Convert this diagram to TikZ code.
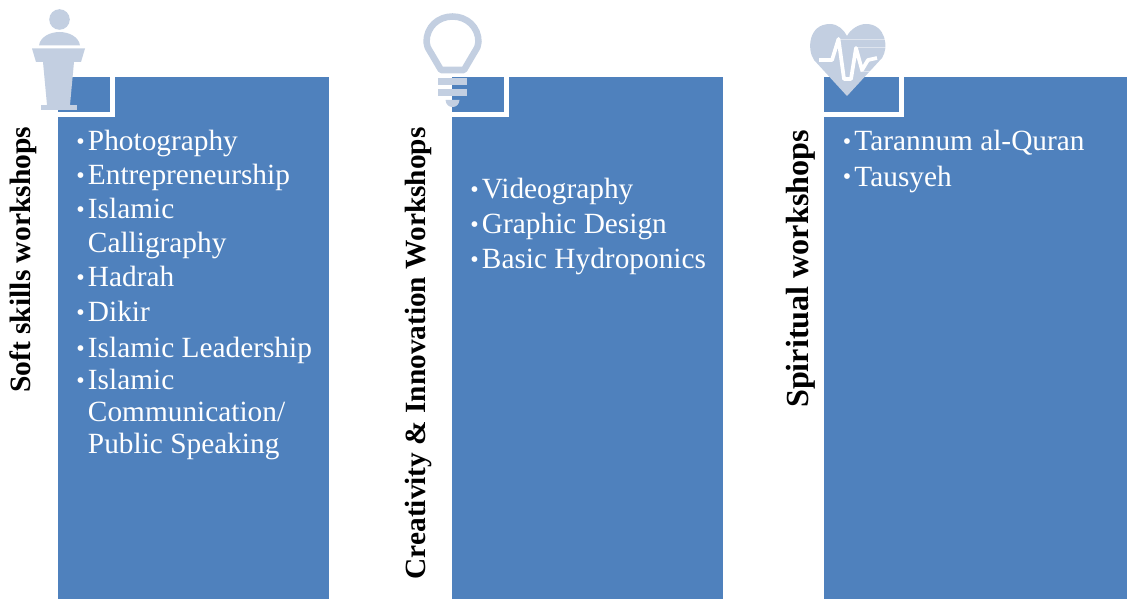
\documentclass[tikz,border=0pt]{standalone}
\usepackage{fontspec}
\setmainfont{Liberation Serif}
\definecolor{panel}{HTML}{4F81BD}
\definecolor{icon}{HTML}{C3CFE1}
\tikzset{
  x=0.75pt,y=-0.75pt,
  panelbox/.style={fill=panel,draw=none},
  gap/.style={draw=white,line width=3.75pt,line cap=butt},
  item/.style={text=white,anchor=base west,inner sep=0pt,font=\fontsize{22pt}{24pt}\selectfont},
  dot/.style={text=white,anchor=base west,inner sep=0pt,font=\fontsize{18pt}{20pt}\selectfont},
  vlabel/.style={rotate=90,anchor=base west,inner sep=0pt,font=\fontsize{22.15pt}{24pt}\selectfont\bfseries,text=black},
  iconfill/.style={fill=icon,draw=none},
  iconline/.style={draw=icon,line width=4.9pt,fill=none},
}
\newcommand{\itm}[4]{\node[dot] (#1d) at (#2-1,#3-1.5) {•}; \node[item] (#1) at (#2+10.7,#3) {#4};}
\begin{document}
\begin{tikzpicture}
\useasboundingbox (0,0) rectangle (1127,599);
% panels
\fill[panelbox] (58,77) rectangle (329,599);
\fill[panelbox] (452,77) rectangle (723,599);
\fill[panelbox] (824,77) rectangle (1127,599);
\draw[gap] (58,114.5) -- (115,114.5);
\draw[gap] (112.5,77) -- (112.5,117);
\draw[gap] (452,114.5) -- (509,114.5);
\draw[gap] (506.5,77) -- (506.5,117);
\draw[gap] (824,114.5) -- (904,114.5);
\draw[gap] (901.5,77) -- (901.5,117);
% podium
\fill[iconfill] (59.5,19.5) circle (10.3);
\fill[iconfill] (39,45.5) .. controls (40,37) and (50,32) .. (59.5,32) .. controls (69,32) and (79,37) .. (80,45.5) -- cycle;
\fill[iconfill] (32,48.5) -- (85,48.5) -- (81,62) -- (74,62) -- (70,105) -- (47,105) -- (43,62) -- (36,62) -- cycle;
\fill[iconfill] (40.5,105) rectangle (76.5,110);
% bulb
\draw[iconline,line join=round] (441,70) -- (431,53) .. controls (428,48) and (426.5,46) .. (426.5,42) .. controls (426.5,27) and (438,16.5) .. (452.5,16.5) .. controls (467,16.5) and (478.5,27) .. (478.5,42) .. controls (478.5,46) and (477,48) .. (474,53) -- (464,70) -- cycle;
\fill[iconfill] (438,78) rectangle (467,85);
\fill[iconfill] (438,89) rectangle (467,96);
\fill[iconfill] (445.5,100) -- (459.5,100) .. controls (459,105) and (456,107) .. (452.5,107) .. controls (449,107) and (446,105) .. (445.5,100) -- cycle;
% heart
\fill[iconfill] (847,96) -- (814,60) .. controls (807,50) and (808,24) .. (830,24) .. controls (838,24) and (844,30) .. (847,36) .. controls (850,30) and (858,24) .. (866,24) .. controls (886,24) and (889,48) .. (882,58) -- cycle;
\draw[white,opacity=.45,line width=0.4pt] (838,39) -- (886,39);
\draw[white,opacity=.45,line width=0.4pt] (855,47) -- (886,47);
\draw[white,opacity=.45,line width=0.4pt] (860,71) -- (873,71);
\draw[white,line width=2.8pt,line join=round] (819,60) -- (832,60) -- (838.5,39) -- (844,79) -- (851,79) -- (856,48) -- (862,70) -- (868,60) -- (877,58);
% vertical labels
\node[vlabel] (v1) at (30.5,393) {Soft skills workshops};
\node[vlabel,font=\fontsize{22pt}{24pt}\selectfont\bfseries] (v2) at (425,579.5) {Creativity \& Innovation Workshops};
\node[vlabel,font=\fontsize{24.1pt}{26pt}\selectfont\bfseries] (v3) at (808,408) {Spiritual workshops};
% items
\itm{a1}{77}{151}{Photography}
\itm{a2}{77}{185}{Entrepreneurship}
\itm{a3}{77}{218.5}{Islamic}
\node[item] (a3b) at (87.7,252.5) {Calligraphy};
\itm{a4}{77}{286.5}{Hadrah}
\itm{a5}{77}{321.5}{Dikir}
\itm{a6}{77}{357.5}{Islamic Leadership}
\itm{a7}{77}{389.5}{Islamic}
\node[item] (a7b) at (87.7,421.5) {Communication/};
\node[item] (a7c) at (87.7,453.5) {Public Speaking};
\itm{b1}{471}{198.5}{Videography}
\itm{b2}{471}{233.5}{Graphic Design}
\itm{b3}{471}{268.5}{Basic Hydroponics}
\itm{c1}{843.5}{151}{Tarannum al-Quran}
\itm{c2}{843.5}{186.5}{Tausyeh}
\end{tikzpicture}
\end{document}
